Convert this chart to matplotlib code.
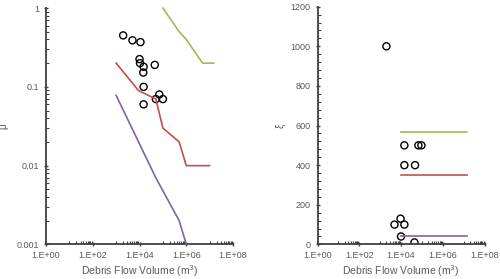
import numpy as np
import matplotlib.pyplot as plt
from matplotlib.ticker import FixedLocator, NullFormatter

plt.rcParams['font.family'] = ['Liberation Sans', 'DejaVu Sans']

# 观测数据 (左: mu)
mu_vol = [2e3, 5e3, 1.1e4, 1e4, 1.05e4, 1.5e4, 1.45e4, 4.5e4, 1.5e4, 7e4, 5e4, 1e5, 1.5e4]
mu_val = [0.45, 0.39, 0.37, 0.225, 0.2, 0.18, 0.152, 0.19, 0.1, 0.08, 0.07, 0.07, 0.06]

# 观测数据 (右: xi)
xi_vol = [2e3, 1.45e4, 6.8e4, 9.5e4, 1.45e4, 4.7e4, 9.5e3, 4.9e3, 1.45e4, 1e4, 4.4e4]
xi_val = [1000, 500, 500, 500, 400, 400, 130, 100, 100, 40, 10]

# 上/中/下 界线
green_mu_x = [1e5, 5e5, 1e6, 5e6, 1.5e7]
green_mu_y = [1.0, 0.5, 0.4, 0.2, 0.2]
red_mu_x = [1e3, 9e3, 5e4, 1e5, 5e5, 1e6, 1e7]
red_mu_y = [0.2, 0.09, 0.07, 0.03, 0.02, 0.01, 0.01]
purple_mu_x = [1e3, 5e4, 5e5, 1e6]
purple_mu_y = [0.078, 0.007, 0.002, 0.001]

line_x = [1e4, 1.5e7]
green_xi = [567, 567]
red_xi = [350, 350]
purple_xi = [40, 40]

GREEN = '#9BBB59'
RED = '#C0504D'
PURPLE = '#8064A2'
GRAY = '#595959'

fig = plt.figure(figsize=(5.0, 2.79), dpi=100)
ax1 = fig.add_axes([0.092, 0.124, 0.374, 0.847])
ax2 = fig.add_axes([0.635, 0.124, 0.334, 0.852])

xmaj = [10.0 ** k for k in range(0, 9, 2)]
xmin = [m * 10.0 ** k for k in range(0, 8, 2) for m in [10, 20, 30, 40, 50, 60, 70, 80, 90]]
xlabels = ['1.E+%02d' % k for k in range(0, 9, 2)]


def style(ax):
    for s in ['top', 'right']:
        ax.spines[s].set_visible(False)
    for s in ['left', 'bottom']:
        ax.spines[s].set_color('#404040')
        ax.spines[s].set_linewidth(1.3)
    ax.set_xscale('log')
    ax.set_xlim(1, 1e8)
    ax.xaxis.set_major_locator(FixedLocator(xmaj))
    ax.xaxis.set_minor_locator(FixedLocator(xmin))
    ax.xaxis.set_minor_formatter(NullFormatter())
    ax.set_xticklabels(xlabels)
    ax.tick_params(axis='both', which='major', labelsize=6.5, labelcolor=GRAY,
                   color='#404040', length=3, width=1, direction='inout')
    ax.tick_params(axis='both', which='minor', color='#404040', length=2.5,
                   width=0.8, direction='in')
    ax.set_xlabel('Debris Flow Volume (m$^3$)', fontsize=7.5, color=GRAY, labelpad=2)


# 左图
style(ax1)
ax1.set_yscale('log')
ax1.set_ylim(0.001, 1)
ax1.set_yticks([0.001, 0.01, 0.1, 1])
ax1.set_yticklabels(['0.001', '0.01', '0.1', '1'])
ax1.yaxis.set_minor_formatter(NullFormatter())
ax1.plot(green_mu_x, green_mu_y, color=GREEN, lw=1.2, zorder=3, clip_on=False)
ax1.plot(red_mu_x, red_mu_y, color=RED, lw=1.2, zorder=3)
ax1.plot(purple_mu_x, purple_mu_y, color=PURPLE, lw=1.2, zorder=3, clip_on=False)
ax1.scatter(mu_vol, mu_val, s=26, facecolors='none', edgecolors='black', linewidths=1, zorder=2)
ax1.set_ylabel('μ', fontsize=7, color=GRAY)
ax1.yaxis.set_label_coords(-0.2, 0.5)

# 右图
style(ax2)
ax2.set_ylim(0, 1200)
ax2.set_yticks(np.arange(0, 1201, 200))
ax2.yaxis.set_minor_locator(FixedLocator(np.arange(0, 1201, 40)))
ax2.scatter(xi_vol, xi_val, s=26, facecolors='none', edgecolors='black', linewidths=1, zorder=2)
ax2.plot(line_x, green_xi, color=GREEN, lw=1.2, zorder=3)
ax2.plot(line_x, red_xi, color=RED, lw=1.2, zorder=3)
ax2.plot(line_x, purple_xi, color=PURPLE, lw=1.2, zorder=3)
ax2.set_ylabel('ξ', fontsize=7, color=GRAY)
ax2.yaxis.set_label_coords(-0.19, 0.5)

fig.savefig('out.png', dpi=100)
